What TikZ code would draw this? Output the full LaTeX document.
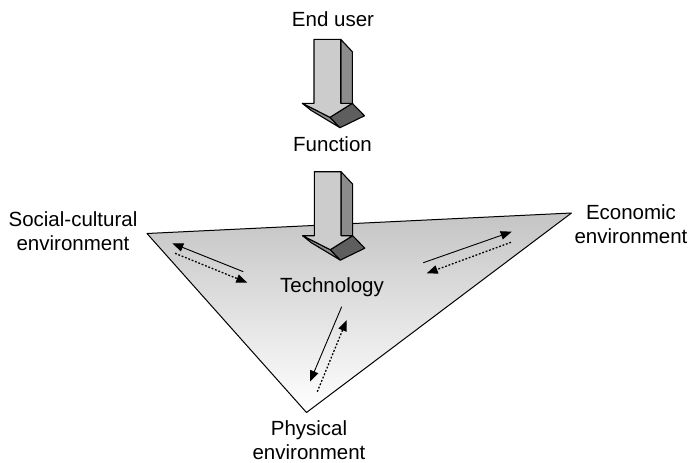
\documentclass[tikz,border=0pt]{standalone}
\usepackage{fontspec}
\setmainfont{Liberation Sans}
\usetikzlibrary{arrows.meta}

\tikzset{
  lbl/.style={font=\fontsize{20.5}{24.5}\selectfont, inner sep=0pt, align=center},
  edgeline/.style={draw=black, line width=1pt, line join=round},
  facefront/.style={fill=black!20, draw=black, line width=1.1pt, line join=round},
  faceside/.style={fill=black!45, draw=black, line width=1.1pt, line join=round},
  facedark/.style={fill=black!63, draw=black, line width=1.1pt, line join=round},
  flowsolid/.style={line width=0.9pt, -{Triangle[length=11pt,width=8.5pt]}},
  flowdotted/.style={line width=1.3pt, dash pattern=on 1.8pt off 1.8pt, -{Triangle[length=11pt,width=8.5pt]}},
  % extruded block arrow pointing down; origin at the top-left of the shaft
  blockarrow/.pic={
    \path[faceside] (26.7,0) -- (38.3,12.4) -- (38.3,70) -- (26.7,64) -- cycle;
    \path[faceside] (-11.7,64) -- (16,78) -- (26,88.4) -- (-3,71) -- cycle;
    \path[facedark] (38.3,64) -- (50.5,76.5) -- (26,88.4) -- (16,78) -- cycle;
    \path[facefront] (0,0) -- (26.7,0) -- (26.7,64) -- (38.3,64) -- (16,78)
      -- (-11.7,64) -- (0,64) -- cycle;
  }
}

\begin{document}
\begin{tikzpicture}[x=1pt, y=-1pt]
\useasboundingbox (0,0) rectangle (689,463);

% corners of the environment triangle
\coordinate (social) at (147,233.5);
\coordinate (econ) at (571.5,213);
\coordinate (phys) at (306.5,412.5);

\shade[top color=black!23, bottom color=white] (social) -- (econ) -- (phys) -- cycle;
\draw[edgeline] (social) -- (econ) -- (phys) -- cycle;

% labels
\node[lbl, anchor=base] (enduser) at (333,26.7) {End user};
\node[lbl, anchor=base] (function) at (332.5,151.7) {Function};
\node[lbl, anchor=base] (technology) at (332,292) {Technology};
\node[lbl] (sociallbl) at (73,231) {Social-cultural\\environment};
\node[lbl] (econlbl) at (631,224) {Economic\\environment};
\node[lbl] (physlbl) at (309,440) {Physical\\environment};

% block arrows
\pic at (314,39.3) {blockarrow};
\pic at (314.3,171.7) {blockarrow};

% exchange arrows between technology and each environment
\coordinate (ls1) at (243.3,271.7);
\coordinate (le1) at (172.3,243.3);
\coordinate (ls2) at (175,253.3);
\coordinate (le2) at (247.3,282.7);
\draw[flowsolid] (ls1) -- (le1);
\draw[flowdotted] (ls2) -- (le2);

\coordinate (rs1) at (423.3,262.7);
\coordinate (re1) at (511.7,231.7);
\coordinate (rs2) at (511,242.3);
\coordinate (re2) at (426.7,273.3);
\draw[flowsolid] (rs1) -- (re1);
\draw[flowdotted] (rs2) -- (re2);

\coordinate (bs1) at (341.7,306.7);
\coordinate (be1) at (310,381.7);
\coordinate (bs2) at (317.3,391.7);
\coordinate (be2) at (346.7,320);
\draw[flowsolid] (bs1) -- (be1);
\draw[flowdotted] (bs2) -- (be2);
\end{tikzpicture}
\end{document}
